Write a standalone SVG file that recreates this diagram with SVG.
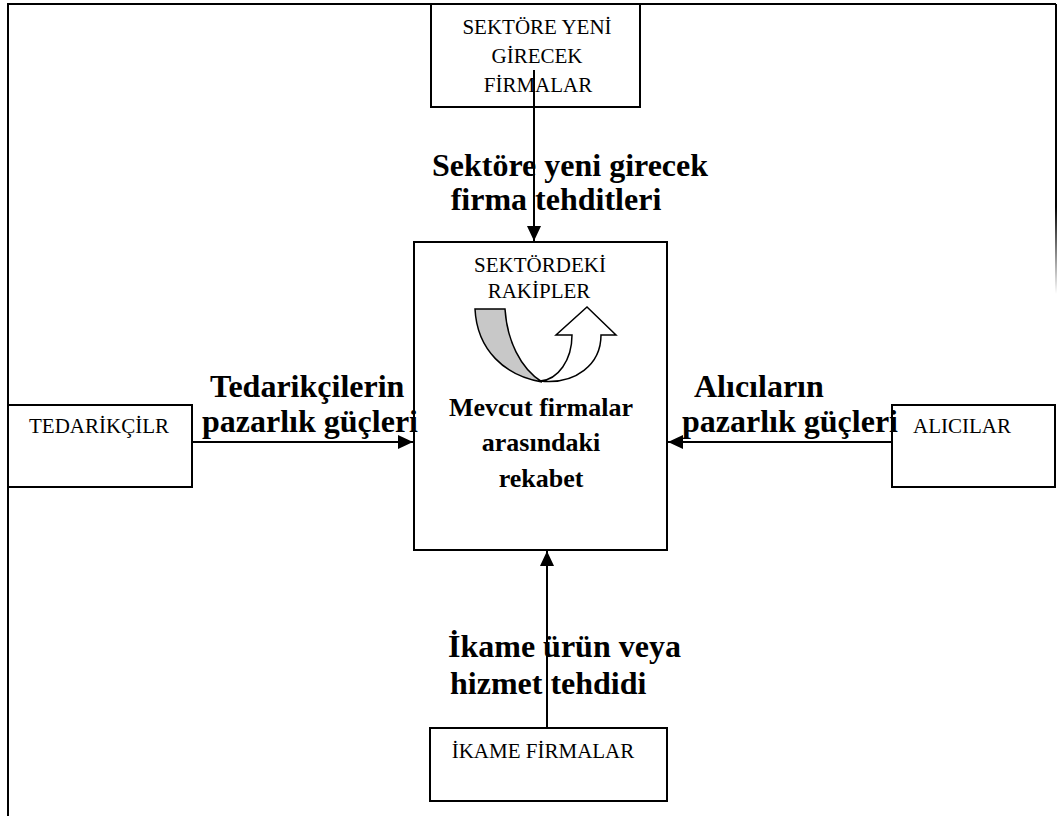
<svg xmlns="http://www.w3.org/2000/svg" width="1057" height="816" viewBox="0 0 1057 816">
  <defs>
    <marker id="arrow" markerUnits="userSpaceOnUse" markerWidth="16" markerHeight="14" refX="15" refY="7" orient="auto">
      <path d="M0,0 L15,7 L0,14 Z" fill="#000"/>
    </marker>
    <linearGradient id="fade" x1="0" y1="0" x2="0" y2="1">
      <stop offset="0" stop-color="#000"/>
      <stop offset="0.7" stop-color="#000"/>
      <stop offset="1" stop-color="#000" stop-opacity="0"/>
    </linearGradient>
    <style>
      .box { fill: #fff; stroke: #000; stroke-width: 2; }
      .frame { fill: none; stroke: #000; stroke-width: 2; }
      .conn { fill: none; stroke: #000; stroke-width: 2; marker-end: url(#arrow); }
      .small { font-family: "Liberation Serif", "Times New Roman", serif; font-size: 21px; fill: #000; }
      .label { font-family: "Liberation Serif", "Times New Roman", serif; font-size: 32px; font-weight: bold; fill: #000; }
      .core { font-family: "Liberation Serif", "Times New Roman", serif; font-size: 26px; font-weight: bold; fill: #000; }
    </style>
  </defs>

  <rect width="1057" height="816" fill="#fff"/>

  <!-- outer frame -->
  <g id="frame">
    <path class="frame" d="M8,816 L8,4 L1056,4"/>
    <rect x="1055" y="4" width="2" height="290" fill="url(#fade)"/>
  </g>

  <!-- new entrants -->
  <g id="entrants">
    <rect class="box" x="431" y="4" width="209" height="103"/>
    <text class="small" x="537" y="34" text-anchor="middle">SEKTÖRE YENİ</text>
    <text class="small" x="537" y="63" text-anchor="middle">GİRECEK</text>
    <text class="small" x="538" y="92" text-anchor="middle">FİRMALAR</text>
  </g>

  <!-- central rivalry -->
  <g id="rivals">
    <rect class="box" x="414" y="242" width="253" height="308"/>
    <text class="small" x="540" y="272" text-anchor="middle">SEKTÖRDEKİ</text>
    <text class="small" x="539" y="298" text-anchor="middle">RAKİPLER</text>
    <!-- curved up-arrow: grey back face, white front arrow -->
    <path d="M475,309 L505,309 C507,340 520,368 542,382 C505,376 477,350 475,309 Z" fill="#c8c8c8" stroke="#000" stroke-width="1.5"/>
    <path d="M540,381 C558,380 572,360 572,335 L556,335 L587,307 L616,335 L601,335 C601,364 576,385 540,381 Z" fill="#fff" stroke="#000" stroke-width="1.5"/>
    <text class="core" x="541" y="416" text-anchor="middle">Mevcut firmalar</text>
    <text class="core" x="541" y="451" text-anchor="middle">arasındaki</text>
    <text class="core" x="541" y="487" text-anchor="middle">rekabet</text>
  </g>

  <!-- suppliers -->
  <g id="suppliers">
    <rect class="box" x="8" y="405" width="184" height="82"/>
    <text class="small" x="99" y="433" text-anchor="middle">TEDARİKÇİLR</text>
  </g>

  <!-- buyers -->
  <g id="buyers">
    <rect class="box" x="892" y="405" width="163" height="82"/>
    <text class="small" x="962" y="433" text-anchor="middle">ALICILAR</text>
  </g>

  <!-- substitutes -->
  <g id="substitutes">
    <rect class="box" x="430" y="728" width="237" height="73"/>
    <text class="small" x="543" y="758" text-anchor="middle">İKAME FİRMALAR</text>
  </g>

  <!-- force arrows -->
  <g id="connectors">
    <line class="conn" x1="534" y1="70" x2="534" y2="241"/>
    <line class="conn" x1="192" y1="442" x2="413" y2="442"/>
    <line class="conn" x1="892" y1="442" x2="668" y2="442"/>
    <line class="conn" x1="547" y1="728" x2="547" y2="551"/>
  </g>

  <!-- force labels -->
  <g id="labels">
    <text class="label" x="570" y="176" text-anchor="middle">Sektöre yeni girecek</text>
    <text class="label" x="556" y="210" text-anchor="middle">firma tehditleri</text>
    <text class="label" x="210" y="397">Tedarikçilerin</text>
    <text class="label" x="202" y="432">pazarlık güçleri</text>
    <text class="label" x="694" y="397">Alıcıların</text>
    <text class="label" x="682" y="432">pazarlık güçleri</text>
    <text class="label" x="448" y="657">İkame ürün veya</text>
    <text class="label" x="450" y="694">hizmet tehdidi</text>
  </g>
</svg>
